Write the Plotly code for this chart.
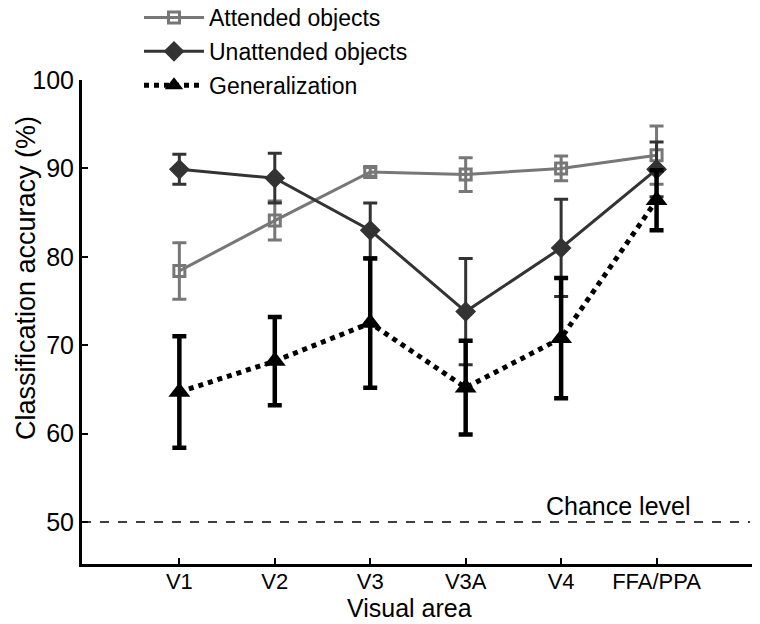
import plotly.graph_objects as go

areas = ["V1", "V2", "V3", "V3A", "V4", "FFA/PPA"]
attended = [78.4, 84.1, 89.6, 89.3, 90.0, 91.5]
attended_err = [3.2, 2.2, 0.5, 1.9, 1.4, 3.3]
unattended = [89.9, 88.9, 83.0, 73.8, 81.0, 89.9]
unattended_err = [1.7, 2.8, 3.1, 6.0, 5.5, 3.1]
generalization = [64.7, 68.2, 72.5, 65.2, 70.8, 86.4]
generalization_err = [6.3, 5.0, 7.3, 5.3, 6.8, 3.4]
chance = 50

xi = list(range(len(areas)))
FONT = "Liberation Sans, Arial, sans-serif"

W, H = 760, 624
L, R, T, B = 74, 16, 72, 68
PW, PH = W - L - R, H - T - B

def px_x(px):
    return (px - L) / PW

def px_y(py):
    return 1 - (py - T) / PH

fig = go.Figure()
fig.add_trace(go.Scatter(
    x=xi, y=attended, name="Attended objects", mode="lines+markers", legendgroup="a",
    line=dict(color="#777777", width=3),
    marker=dict(symbol="square-open", size=11, color="#777777", line=dict(width=3)),
    error_y=dict(type="data", array=attended_err, color="#777777", thickness=3, width=7),
))
fig.add_trace(go.Scatter(
    x=xi, y=unattended, name="Unattended objects", mode="lines+markers", legendgroup="b",
    line=dict(color="#333333", width=3),
    marker=dict(symbol="diamond", size=16, color="#333333"),
    error_y=dict(type="data", array=unattended_err, color="#333333", thickness=3, width=7),
))
fig.add_trace(go.Scatter(
    x=xi, y=generalization, name="Generalization", mode="lines+markers", legendgroup="c",
    line=dict(color="#000000", width=5, dash="dot"),
    marker=dict(symbol="triangle-up", size=19, color="#000000"),
    error_y=dict(type="data", array=generalization_err, color="#000000", thickness=4.5, width=7),
))

fig.add_shape(type="line", xref="x", yref="y", x0=-1.02, x1=5.98, y0=chance, y1=chance,
              line=dict(color="black", width=1.5, dash="dash"))
fig.add_annotation(x=4.6, y=chance, xref="x", yref="y", text="Chance level",
                   showarrow=False, yanchor="bottom", yshift=0,
                   font=dict(family=FONT, size=25, color="black"))

# axis titles as annotations
fig.add_annotation(x=px_x(18), y=px_y(270), xref="paper", yref="paper",
                   text="Classification accuracy (%)", textangle=-90, showarrow=False,
                   xanchor="center", yanchor="middle", borderpad=0,
                   font=dict(family=FONT, size=27, color="black"))
fig.add_annotation(x=px_x(401), y=px_y(600), xref="paper", yref="paper",
                   text="Visual area", showarrow=False,
                   xanchor="center", yanchor="middle",
                   font=dict(family=FONT, size=25, color="black"))

fig.update_layout(
    width=W, height=H,
    paper_bgcolor="white", plot_bgcolor="white",
    margin=dict(l=L, r=R, t=T, b=B, autoexpand=False),
    font=dict(family=FONT, size=20, color="black"),
    showlegend=True,
    legend=dict(xref="paper", yref="paper", x=px_x(131), y=px_y(-12),
                xanchor="left", yanchor="top", bgcolor="rgba(0,0,0,0)",
                font=dict(size=23), traceorder="grouped", tracegroupgap=1, itemwidth=60),
    xaxis=dict(range=[-1.02, 6.0], tickmode="array", tickvals=xi, ticktext=areas, tickangle=0,
               showline=True, linecolor="black", linewidth=3, ticks="inside",
               ticklen=6, tickwidth=1.5, tickcolor="black", showgrid=False, zeroline=False,
               tickfont=dict(size=22), ticklabelstandoff=-4),
    yaxis=dict(range=[45.25, 100], tickvals=[50, 60, 70, 80, 90, 100],
               showline=True, linecolor="black", linewidth=3, ticks="inside",
               ticklen=6, tickwidth=1.5, tickcolor="black", showgrid=False, zeroline=False,
               tickfont=dict(size=25)),
)

fig.write_html("out.html")
